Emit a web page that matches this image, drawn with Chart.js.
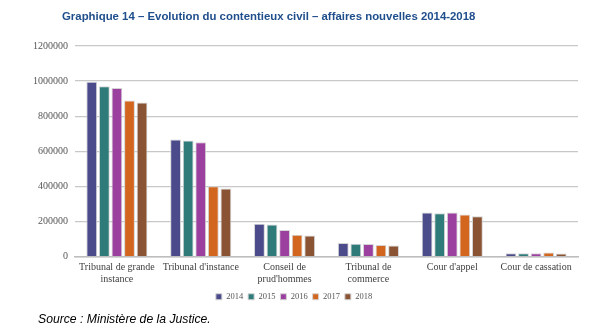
<!DOCTYPE html>
<html>
<head>
<meta charset="utf-8">
<script src="https://cdn.jsdelivr.net/npm/chart.js@4.4.1/dist/chart.umd.min.js"></script>
<style>
  html, body { margin: 0; padding: 0; background: #fff; }
  #wrap { position: relative; width: 605px; height: 333px; }
  #titre {
    position: absolute; left: 62px; top: 10px;
    font: bold 11.4px "Liberation Sans", Arial, sans-serif;
    color: #1f4e8c; white-space: nowrap;
  }
  #source {
    position: absolute; left: 38px; top: 312px;
    font: italic 12.2px "Liberation Sans", Arial, sans-serif;
    color: #000; white-space: nowrap;
  }
  canvas { position: absolute; left: 0; top: 0; }
</style>
</head>
<body>
<div id="wrap">
  <canvas id="barChart" width="605" height="333"></canvas>
  <div id="titre">Graphique 14 – Evolution du contentieux civil – affaires nouvelles 2014-2018</div>
  <div id="source">Source : Ministère de la Justice.</div>
</div>
<script>
// juridictions
var juridictions = [
  ['Tribunal de grande', 'instance'],
  "Tribunal d'instance",
  ['Conseil de', "prud'hommes"],
  ['Tribunal de', 'commerce'],
  "Cour d'appel",
  'Cour de cassation'
];
var annees = ['2014', '2015', '2016', '2017', '2018'];

// affaires nouvelles par annee
var v2014 = [996000, 667000, 187000, 77000, 251000, 19000];
var v2015 = [971000, 661000, 183000, 73000, 247000, 19000];
var v2016 = [961000, 652000, 151000, 71000, 251000, 19000];
var v2017 = [890000, 400000, 124000, 66000, 240000, 23000];
var v2018 = [878000, 387000, 120000, 62000, 230000, 17000];

var yTicks = [0, 200000, 400000, 600000, 800000, 1000000, 1200000];

var couleurs = ['#4b4a8b', '#2f7b79', '#9c40a0', '#d2661f', '#8a5434'];
var series = [v2014, v2015, v2016, v2017, v2018];

var datasets = [];
for (let i = 0; i < annees.length; i++) {
  datasets.push({
    label          : annees[i],
    data           : series[i],
    backgroundColor: couleurs[i],
    borderColor    : '#d4d4d4',
    borderWidth    : 1,
    categoryPercentage: 0.75,
    barPercentage  : 0.86
  });
}

// petit decalage de la legende vers la droite
var legendShift = {
  id: 'legendShift',
  afterLayout: function (chart) {
    chart.legend.left += 5;
    chart.legend.right += 5;
  }
};

var serif = '"Liberation Serif", "DejaVu Serif", serif';

new Chart(document.getElementById('barChart'), {
  type: 'bar',
  data: { labels: juridictions, datasets: datasets },
  plugins: [legendShift],
  options: {
    responsive: false,
    animation : false,
    layout: { padding: { left: 0, right: 27, top: 46, bottom: 22 } },
    plugins: {
      tooltip: { enabled: false },
      legend: {
        position: 'bottom',
        labels: {
          boxWidth : 6,
          boxHeight: 6,
          padding  : 5,
          color    : '#555',
          font     : { family: serif, size: 8.5 }
        }
      }
    },
    scales: {
      x: {
        grid  : { display: false, drawTicks: false },
        border: { display: true, color: '#bdbdbd', width: 1.5 },
        ticks : {
          color: '#404040', padding: 5, maxRotation: 0, autoSkip: false,
          font: { family: serif, size: 10, lineHeight: 1.2 }
        },
        afterFit: function (s) { s.height = 31; }
      },
      y: {
        min: 0, max: 1200000,
        afterBuildTicks: function (s) { s.ticks = yTicks.map(v => ({ value: v })); },
        grid  : { color: '#c8c8c8', lineWidth: 1.2, drawTicks: false },
        border: { display: false },
        ticks : {
          color: '#555', padding: 7,
          font: { family: serif, size: 10 },
          callback: function (v) { return String(v); }
        },
        afterFit: function (s) { s.width = 75; }
      }
    }
  }
});
</script>
</body>
</html>
